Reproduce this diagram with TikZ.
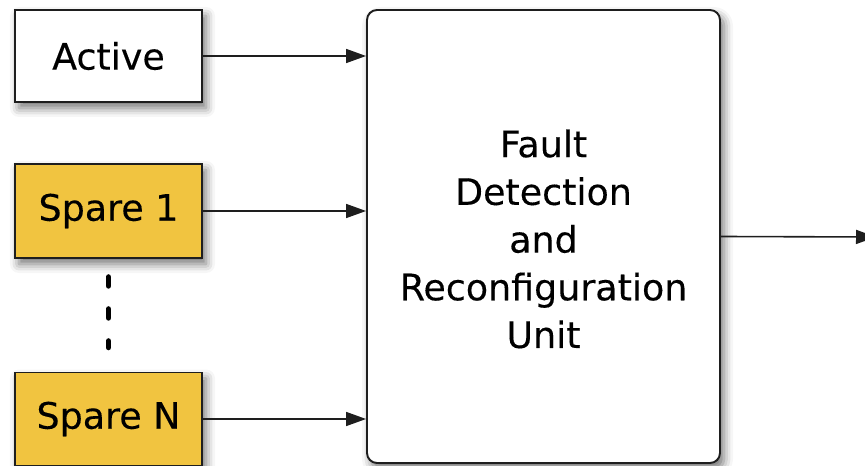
\documentclass[tikz,border=0pt]{standalone}
\usepackage{fontspec}
\setmainfont{DejaVu Sans}
\newfontfamily\labelfont{DejaVu Sans}[FakeBold=0.3]
\usetikzlibrary{arrows.meta,shadows.blur}

\definecolor{sparefill}{RGB}{241,196,64}
\definecolor{edgecol}{RGB}{30,30,30}

\tikzset{
  dropshade/.style={blur shadow={shadow xshift=4bp, shadow yshift=-6bp,
      shadow blur radius=9bp, shadow opacity=55}},
  labeltext/.style={inner sep=0pt, align=center,
      font=\labelfont\fontsize{36.4bp}{47.7bp}\selectfont\addfontfeature{FakeBold=0.3}},
  unitbox/.style={draw=edgecol, line width=1.9bp, dropshade, labeltext},
  modbox/.style={unitbox, minimum width=187bp},
  sparebox/.style={modbox, fill=sparefill},
  link/.style={draw=edgecol, line width=1.6bp,
      -{Triangle[length=20bp, width=14bp]}},
  ellipsis/.style={draw=black, line width=5.5bp, line cap=round,
      dash pattern=on 9bp off 23bp}
}

\begin{document}
\begin{tikzpicture}[x=1bp, y=-1bp]
  \useasboundingbox (0,0) rectangle (865,466);
  \clip (0,0) rectangle (865,466);

  % input modules
  \node[modbox, fill=white, minimum height=92bp] (active) at (108.5,56) {Active};
  \node[sparebox, minimum height=94bp] (spare1) at (108.5,211) {Spare 1};
  \node[sparebox, minimum height=93bp] (spareN) at (108.5,419) {Spare N};

  % central unit and its caption
  \node[unitbox, fill=white, rounded corners=10bp,
        minimum width=353bp, minimum height=453bp] (fdr) at (543.5,236.5) {};
  \node[labeltext] (fdrtext) at ([yshift=-2.5bp]fdr.center)
        {Fault\\Detection\\and\\Reconfiguration\\Unit};

  % the elided spares between Spare 1 and Spare N
  \draw[ellipsis, shorten <=18bp, shorten >=24bp] (spare1.south) -- (spareN.north);

  % connections into and out of the unit
  \draw[link] (active.east) -- (active.east -| fdr.west);
  \draw[link] (spare1.east) -- (spare1.east -| fdr.west);
  \draw[link] (spareN.east) -- (spareN.east -| fdr.west);
  \coordinate (outtip) at (876,237);
  \draw[link] (fdr.east) -- (outtip);
\end{tikzpicture}
\end{document}
